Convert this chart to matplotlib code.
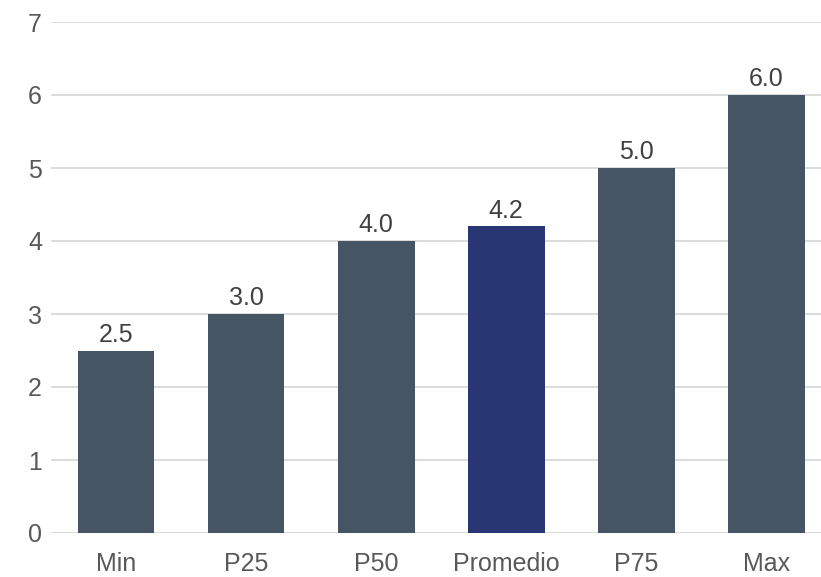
import matplotlib.pyplot as plt

categories = ['Min', 'P25', 'P50', 'Promedio', 'P75', 'Max']
values = [2.5, 3.0, 4.0, 4.2, 5.0, 6.0]
highlight = 'Promedio'

plt.rcParams['font.family'] = ['Liberation Sans', 'DejaVu Sans']

fig = plt.figure(figsize=(8.21, 5.77), dpi=100)
ax = fig.add_axes([51 / 821, 1 - 533 / 577, 1 - 51 / 821, (533 - 22) / 577])

colors = ['#283673' if c == highlight else '#465564' for c in categories]
x = list(range(len(categories)))
bars = ax.bar(x, values, width=0.59, color=colors, zorder=3)

for xi, v in zip(x, values):
    ax.text(xi, v + 0.05, f'{v:.1f}', ha='center', va='bottom',
            fontsize=18, color='#404040')

ax.set_xlim(-0.5, 5.42)
ax.set_ylim(0, 7)
ax.set_yticks(range(0, 8))
ax.set_xticks(x)
ax.set_xticklabels(categories)
ax.grid(axis='y', color='#d9d9d9', linewidth=1.3, zorder=0)
for s in ax.spines.values():
    s.set_visible(False)
ax.tick_params(axis='both', length=0, labelsize=18, colors='#595959')
ax.tick_params(axis='x', pad=14)
ax.tick_params(axis='y', pad=16.5)
for lbl in ax.get_yticklabels():
    lbl.set_horizontalalignment('left')

fig.savefig('out.png', dpi=100)
